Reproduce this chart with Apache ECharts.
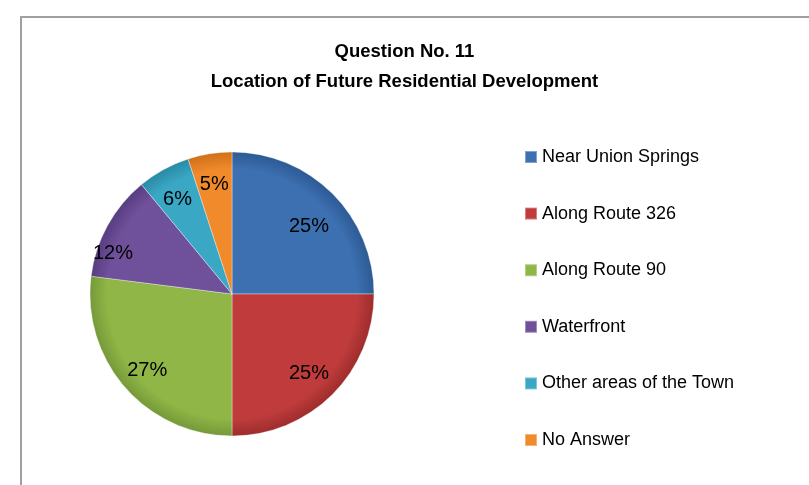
<!DOCTYPE html>
<html><head><meta charset="utf-8">
<script src="https://cdn.jsdelivr.net/npm/echarts@6/dist/echarts.min.js"></script>
<style>html,body{margin:0;padding:0;background:#fff}#c{width:809px;height:485px}</style>
</head><body><div id="c"></div>
<script>
const categories = ['Near Union Springs','Along Route 326','Along Route 90','Waterfront','Other areas of the Town','No Answer'];
const values = [25, 25, 27, 12, 6, 5];
const colors = ['#3d70b1','#c03c3c','#8fb646','#6f509a','#3aa7c5','#f08a2b'];
const rimColors = ['#2c5a94','#9e2c2c','#76993a','#583d80','#2a8aa5','#d0701a'];
const FONT = '"Liberation Sans", Arial, sans-serif';
const labelNudge = [[-3,12],[-3,0],[0,2],[-20,14],[0,5],[0,2]];

const CX = 232, CY = 294, R = 142;
const data = categories.map((n,i)=>({name:n, value:values[i], itemStyle:{color:{
  type:'radial', x:CX, y:CY, r:R, global:true,
  colorStops:[{offset:0,color:colors[i]},{offset:0.88,color:colors[i]},{offset:1,color:rimColors[i]}]
}}}));
const chart = echarts.init(document.getElementById('c'));
chart.setOption({
  animation:false,
  graphic:[{type:'rect', shape:{x:21,y:17,width:900,height:600}, style:{fill:'none', stroke:'#a0a0a0', lineWidth:2}, silent:true}],
  title:{
    text:'Question No. 11',
    subtext:'Location of Future Residential Development',
    left:'center', top:37, itemGap:11,
    textStyle:{fontFamily:FONT, fontSize:18.5, fontWeight:'bold', color:'#000'},
    subtextStyle:{fontFamily:FONT, fontSize:18.5, fontWeight:'bold', color:'#000'}
  },
  legend:{
    orient:'vertical', left:524, top:147, padding:0,
    icon:'rect', itemWidth:12, itemHeight:12, itemGap:36.6,
    textStyle:{fontFamily:FONT, fontSize:18, color:'#000', lineHeight:20},
    data:categories.map((n,i)=>({name:n, itemStyle:{color:colors[i]}}))
  },
  series:[
    {type:'pie', center:[CX,CY], radius:[0,R], startAngle:90, clockwise:true,
     data:data, label:{show:false}, labelLine:{show:false},
     itemStyle:{borderColor:'rgba(255,255,255,0.35)', borderWidth:1}},
    {type:'pie', center:[CX,CY], radius:[78,R], startAngle:90, clockwise:true, silent:true,
     legendHoverLink:false,
     data:categories.map((n,i)=>({name:n, value:values[i], itemStyle:{color:'rgba(0,0,0,0)'}})),
     itemStyle:{borderWidth:0},
     label:{show:true, position:'inside', formatter:p=>p.value+'%', fontFamily:FONT, fontSize:20, color:'#000'},
     labelLine:{show:false},
     labelLayout:p=>({dx:labelNudge[p.dataIndex][0], dy:labelNudge[p.dataIndex][1]})}
  ]
});
</script></body></html>
